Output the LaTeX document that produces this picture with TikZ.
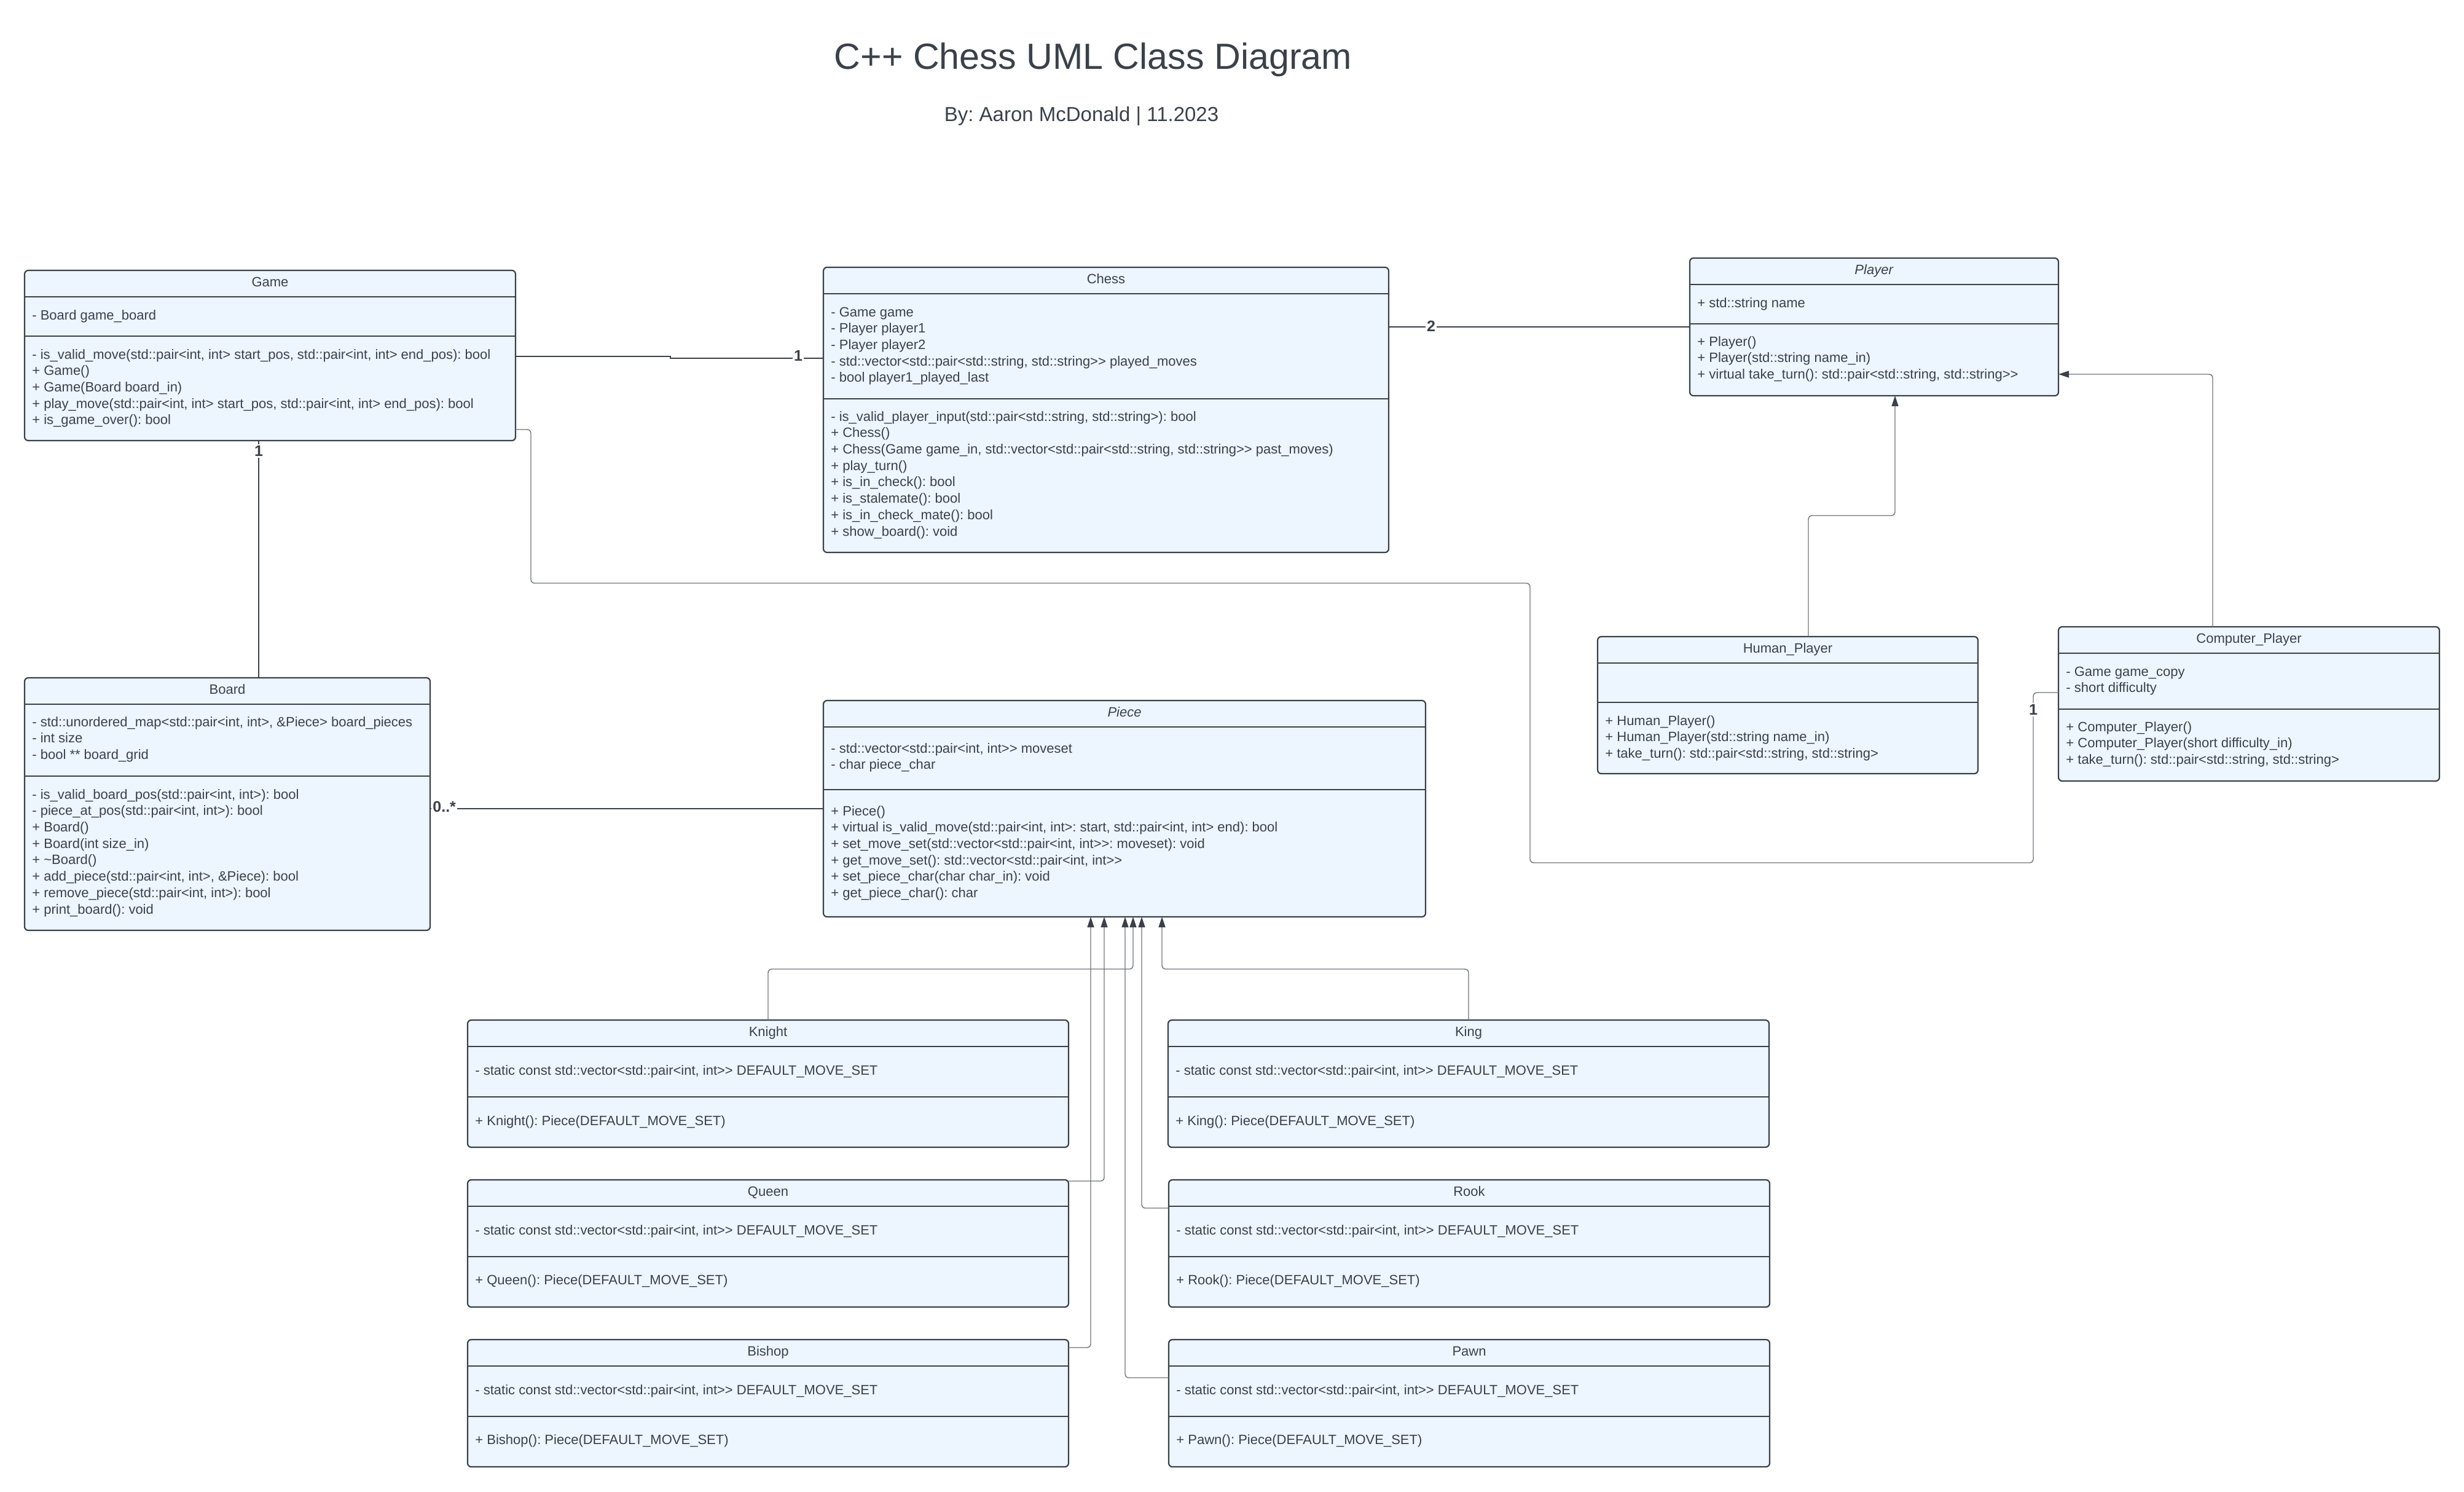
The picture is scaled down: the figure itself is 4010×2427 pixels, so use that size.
\documentclass[tikz,border=0pt]{standalone}
\usepackage{fontspec}
\setmainfont{Liberation Sans}[Ligatures=TeXOff]
\frenchspacing
\usetikzlibrary{arrows.meta}
\definecolor{umlline}{HTML}{3A414A}
\definecolor{umlfill}{HTML}{EDF5FF}
\definecolor{umlgray}{HTML}{6E737B}
\newcommand{\memberfont}{\fontsize{11}{13.35}\selectfont}
\tikzset{
    classbox/.style={draw=umlline, fill=umlfill, line width=1.1pt, rounded corners=3pt, anchor=north west, inner sep=0pt, outer sep=0pt},
    divider/.style={draw=umlline, line width=1.1pt},
    classname/.style={anchor=base, text=umlline, font=\memberfont},
    members/.style={anchor=north west, inner sep=0pt, align=left, text=umlline, font=\memberfont},
    mult/.style={fill=white, inner sep=1pt, text=umlline, font=\fontsize{12.5}{14}\selectfont\bfseries},
    assoc/.style={draw=umlline, line width=0.9pt},
    link/.style={draw=umlgray, line width=0.7pt, rounded corners=3pt},
    inherit/.style={link, -{Triangle[length=8.5pt,width=5.5pt,color=umlline]}}
}
\newcommand{\umlclass}[7]{%
    \node[classbox, minimum width=#4*0.5pt, minimum height=#6*0.5pt] (#1) at (#2,#3) {};
    \draw[divider] (#2,#3+43) -- (#2+#4,#3+43);
    \draw[divider] (#2,#3+43+#5) -- (#2+#4,#3+43+#5);
    \node[classname] (#1Name) at (#2+#4/2,#3+26) {#7};
}
\begin{document}
            \begin{tikzpicture}[x=0.5pt,y=-0.5pt]
                \useasboundingbox (0,0) rectangle (4010,2427);
                \node[anchor=base, text=umlline, font=\fontsize{29.6}{35}\selectfont] (Title) at (1779,112) {C++ Chess UML Class Diagram};
                \node[anchor=base, text=umlline, font=\fontsize{16.5}{20}\selectfont] (Byline) at (1760,197) {By: Aaron McDonald | 11.2023};
                \umlclass{Game}{40}{440}{799}{64}{277}{Game}
                \node[members] (GameA) at (52,501) {\strut - Board game\_board};
                \node[members] (GameM) at (52,565) {\strut - is\_valid\_move(std::pair<int, int> start\_pos, std::pair<int, int> end\_pos): bool\\+ Game()\\+ Game(Board board\_in)\\+ play\_move(std::pair<int, int> start\_pos, std::pair<int, int> end\_pos): bool\\+ is\_game\_over(): bool};
                \umlclass{Chess}{1340}{435}{920}{171}{464}{Chess}
                \node[members] (ChessA) at (1352,496) {\strut - Game game\\- Player player1\\- Player player2\\- std::vector<std::pair<std::string, std::string>> played\_moves\\- bool player1\_played\_last};
                \node[members] (ChessM) at (1352,666) {\strut - is\_valid\_player\_input(std::pair<std::string, std::string>): bool\\+ Chess()\\+ Chess(Game game\_in, std::vector<std::pair<std::string, std::string>> past\_moves)\\+ play\_turn()\\+ is\_in\_check(): bool\\+ is\_stalemate(): bool\\+ is\_in\_check\_mate(): bool\\+ show\_board(): void};
                \umlclass{Player}{2750}{420}{600}{64}{224}{\textit{Player}}
                \node[members] (PlayerA) at (2762,481) {\strut + std::string name};
                \node[members] (PlayerM) at (2762,544) {\strut + Player()\\+ Player(std::string name\_in)\\+ virtual take\_turn(): std::pair<std::string, std::string>>};
                \umlclass{Board}{40}{1103}{660}{117}{411}{Board}
                \node[members] (BoardA) at (52,1163) {\strut - std::unordered\_map<std::pair<int, int>, \&Piece> board\_pieces\\- int size\\- bool ** board\_grid};
                \node[members] (BoardM) at (52,1281) {\strut - is\_valid\_board\_pos(std::pair<int, int>): bool\\- piece\_at\_pos(std::pair<int, int>): bool\\+ Board()\\+ Board(int size\_in)\\+ \textasciitilde Board()\\+ add\_piece(std::pair<int, int>, \&Piece): bool\\+ remove\_piece(std::pair<int, int>): bool\\+ print\_board(): void};
                \umlclass{Piece}{1340}{1140}{980}{102}{352}{\textit{Piece}}
                \node[members] (PieceA) at (1352,1206) {\strut - std::vector<std::pair<int, int>> moveset\\- char piece\_char};
                \node[members] (PieceM) at (1352,1308) {\strut + Piece()\\+ virtual is\_valid\_move(std::pair<int, int>: start, std::pair<int, int> end): bool\\+ set\_move\_set(std::vector<std::pair<int, int>>: moveset): void\\+ get\_move\_set(): std::vector<std::pair<int, int>>\\+ set\_piece\_char(char char\_in): void\\+ get\_piece\_char(): char};
                \umlclass{HP}{2600}{1036}{619}{64}{223}{Human\_Player}
                \node[members] (HPM) at (2612,1161) {\strut + Human\_Player()\\+ Human\_Player(std::string name\_in)\\+ take\_turn(): std::pair<std::string, std::string>};
                \umlclass{CP}{3350}{1020}{620}{91}{251}{Computer\_Player}
                \node[members] (CPA) at (3362,1081) {\strut - Game game\_copy\\- short difficulty};
                \node[members] (CPM) at (3362,1171) {\strut + Computer\_Player()\\+ Computer\_Player(short difficulty\_in)\\+ take\_turn(): std::pair<std::string, std::string>};
                \umlclass{Knight}{761}{1660}{978}{82}{207}{Knight}
                \node[members] (KnightA) at (773,1730) {\strut - static const std::vector<std::pair<int, int>> DEFAULT\_MOVE\_SET};
                \node[members] (KnightM) at (773,1812) {\strut + Knight(): Piece(DEFAULT\_MOVE\_SET)};
                \umlclass{King}{1901}{1660}{978}{82}{207}{King}
                \node[members] (KingA) at (1913,1730) {\strut - static const std::vector<std::pair<int, int>> DEFAULT\_MOVE\_SET};
                \node[members] (KingM) at (1913,1812) {\strut + King(): Piece(DEFAULT\_MOVE\_SET)};
                \umlclass{Queen}{761}{1920}{978}{82}{207}{Queen}
                \node[members] (QueenA) at (773,1990) {\strut - static const std::vector<std::pair<int, int>> DEFAULT\_MOVE\_SET};
                \node[members] (QueenM) at (773,2071) {\strut + Queen(): Piece(DEFAULT\_MOVE\_SET)};
                \umlclass{Rook}{1902}{1920}{978}{82}{207}{Rook}
                \node[members] (RookA) at (1914,1990) {\strut - static const std::vector<std::pair<int, int>> DEFAULT\_MOVE\_SET};
                \node[members] (RookM) at (1914,2071) {\strut + Rook(): Piece(DEFAULT\_MOVE\_SET)};
                \umlclass{Bishop}{761}{2180}{978}{82}{207}{Bishop}
                \node[members] (BishopA) at (773,2250) {\strut - static const std::vector<std::pair<int, int>> DEFAULT\_MOVE\_SET};
                \node[members] (BishopM) at (773,2331) {\strut + Bishop(): Piece(DEFAULT\_MOVE\_SET)};
                \umlclass{Pawn}{1902}{2180}{978}{82}{207}{Pawn}
                \node[members] (PawnA) at (1914,2250) {\strut - static const std::vector<std::pair<int, int>> DEFAULT\_MOVE\_SET};
                \node[members] (PawnM) at (1914,2331) {\strut + Pawn(): Piece(DEFAULT\_MOVE\_SET)};
                \draw[assoc] (Game.east |- 0,580) -- (1091,580) -- (1091,583) -- (Chess.west |- 0,583);
                \draw[assoc] (Chess.east |- 0,532) -- (Player.west |- 0,532);
                \draw[assoc] (Game.south -| 421,0) -- (Board.north -| 421,0);
                \draw[assoc] (Board.east |- 0,1316) -- (Piece.west |- 0,1316);
                \draw[link] (Game.east |- 0,699) -- (864,699) -- (864,949) -- (2490,949) -- (2490,1404) -- (3309,1404) -- (3309,1127) -- (CP.west |- 0,1127);
                \draw[inherit] (HP.north -| 2943,0) |- (3084,839) -- (Player.south -| 3084,0);
                \draw[inherit] (CP.north -| 3601,0) |- (Player.east |- 0,609);
                \draw[inherit] (Knight.north) |- (1844,1577) -- (Piece.south -| 1844,0);
                \draw[inherit] (King.north) |- (1891,1577) -- (Piece.south -| 1891,0);
                \draw[inherit] (Queen.east |- 0,1922) -| (Piece.south -| 1797,0);
                \draw[inherit] (Rook.west |- 0,1966) -| (Piece.south -| 1858,0);
                \draw[inherit] (Bishop.east |- 0,2193) -| (Piece.south -| 1775,0);
                \draw[inherit] (Pawn.west |- 0,2242) -| (Piece.south -| 1831,0);
                \node[mult] (GameChess1) at (1299,579) {1};
                \node[mult] (ChessPlayer2) at (2329,531) {2};
                \node[mult] (GameBoard1) at (421,734) {1};
                \node[mult, anchor=west] (BoardPiece0) at (702,1313) {0..*};
                \node[mult] (GameCP1) at (3309,1155) {1};
            \end{tikzpicture}
\end{document}
